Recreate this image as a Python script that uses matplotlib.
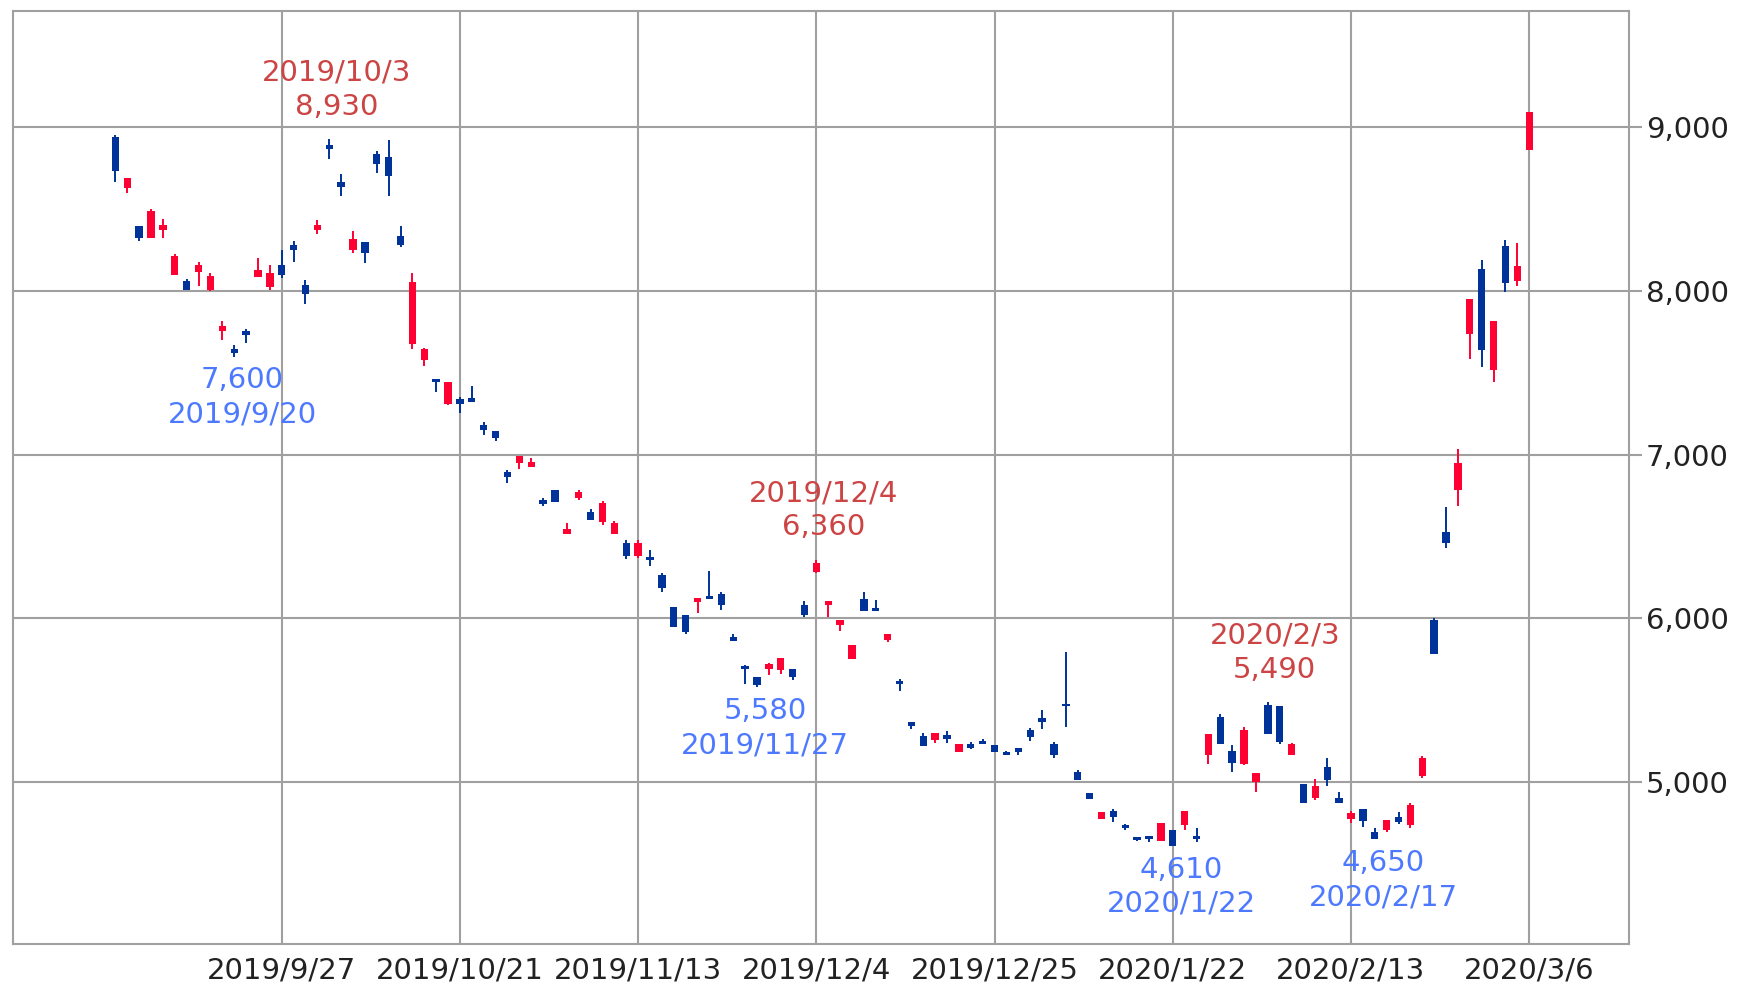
import pandas as pd
import matplotlib
matplotlib.use("Agg")
import matplotlib.pyplot as plt

# trading calendar (TSE), 2019/9/5 - 2020/3/6
holidays = ["2019-09-16", "2019-09-23", "2019-10-14", "2019-10-22", "2019-11-04",
            "2019-12-31", "2020-01-01", "2020-01-02", "2020-01-03", "2020-01-13",
            "2020-02-11", "2020-02-24"]
dates = pd.bdate_range("2019-09-05", "2020-03-06", freq="C", holidays=holidays)

opens = [8734, 8693, 8324, 8488, 8406, 8215, 8006, 8160, 8092, 7785,
         7623, 7730, 8129, 8109, 8098, 8252, 7983, 8402, 8870, 8633,
         8317, 8235, 8777, 8705, 8282, 8056, 7643, 7443, 7447, 7307,
         7324, 7154, 7102, 6861, 6994, 6955, 6697, 6709, 6545, 6775,
         6600, 6703, 6580, 6381, 6461, 6354, 6184, 5949, 5918, 6123,
         6120, 6082, 5863, 5690, 5596, 5719, 5760, 5641, 6020, 6338,
         6109, 5990, 5836, 6047, 6043, 5904, 5600, 5344, 5221, 5303,
         5262, 5234, 5210, 5234, 5187, 5163, 5183, 5275, 5366, 5163,
         5462, 5010, 4894, 4817, 4786, 4719, 4645, 4650, 4752, 4610,
         4821, 4655, 5295, 5234, 5118, 5316, 5057, 5295, 5244, 5234,
         4875, 4976, 5010, 4875, 4809, 4763, 4650, 4769, 4755, 4859,
         5145, 5785, 6459, 6948, 7953, 7639, 7817, 8049, 8156, 9096]
highs = [8953, 8693, 8400, 8502, 8441, 8228, 8072, 8176, 8109, 7816,
         7668, 7771, 8201, 8160, 8252, 8303, 8070, 8433, 8930, 8715,
         8365, 8297, 8854, 8922, 8400, 8111, 7654, 7464, 7447, 7352,
         7420, 7201, 7148, 6908, 6994, 6980, 6738, 6785, 6580, 6785,
         6666, 6717, 6594, 6477, 6477, 6420, 6277, 6072, 6020, 6123,
         6287, 6164, 5902, 5713, 5641, 5727, 5760, 5693, 6109, 6360,
         6109, 5990, 5836, 6164, 6113, 5904, 5631, 5369, 5303, 5303,
         5314, 5234, 5244, 5265, 5224, 5193, 5208, 5330, 5438, 5244,
         5794, 5071, 4935, 4817, 4837, 4746, 4664, 4664, 4752, 4705,
         4821, 4719, 5295, 5417, 5228, 5336, 5057, 5490, 5464, 5240,
         4990, 5020, 5145, 4940, 4823, 4835, 4718, 4769, 4819, 4873,
         5157, 6002, 6680, 7034, 7953, 8191, 7817, 8309, 8292, 9096]
lows = [8666, 8596, 8303, 8324, 8324, 8098, 8006, 8033, 8000, 7703,
        7600, 7682, 8084, 8006, 8078, 8180, 7922, 8350, 8804, 8581,
        8235, 8169, 8722, 8581, 8268, 7649, 7540, 7385, 7303, 7256,
        7320, 7119, 7086, 6826, 6914, 6928, 6689, 6709, 6514, 6723,
        6600, 6570, 6518, 6365, 6369, 6318, 6164, 5949, 5904, 6031,
        6120, 6051, 5863, 5600, 5580, 5652, 5658, 5621, 6006, 6277,
        6010, 5924, 5754, 6047, 6043, 5857, 5559, 5324, 5221, 5242,
        5242, 5183, 5200, 5234, 5187, 5163, 5163, 5254, 5322, 5147,
        5336, 5010, 4894, 4772, 4756, 4705, 4638, 4633, 4638, 4610,
        4705, 4634, 5112, 5234, 5061, 5102, 4939, 5295, 5234, 5167,
        4875, 4889, 4976, 4875, 4749, 4728, 4650, 4694, 4742, 4722,
        5024, 5785, 6429, 6685, 7582, 7533, 7446, 7994, 8028, 8861]
closes = [8939, 8631, 8400, 8324, 8375, 8098, 8060, 8119, 8006, 7756,
          7648, 7754, 8088, 8027, 8160, 8283, 8035, 8371, 8891, 8664,
          8251, 8297, 8839, 8819, 8334, 7674, 7581, 7464, 7313, 7340,
          7345, 7184, 7148, 6893, 6949, 6928, 6723, 6785, 6514, 6738,
          6648, 6590, 6518, 6463, 6383, 6375, 6266, 6072, 6020, 6102,
          6129, 6150, 5887, 5699, 5641, 5693, 5682, 5693, 6082, 6281,
          6082, 5959, 5754, 6117, 6055, 5871, 5611, 5369, 5283, 5256,
          5287, 5183, 5232, 5244, 5224, 5179, 5208, 5316, 5391, 5234,
          5468, 5061, 4935, 4772, 4821, 4735, 4660, 4660, 4638, 4705,
          4739, 4664, 5163, 5397, 5193, 5112, 5000, 5472, 5464, 5167,
          4990, 4903, 5091, 4903, 4775, 4835, 4698, 4708, 4789, 4738,
          5040, 5990, 6529, 6786, 7740, 8136, 7517, 8278, 8061, 8861]

tick_dates = ["2019-09-27", "2019-10-21", "2019-11-13", "2019-12-04",
              "2019-12-25", "2020-01-22", "2020-02-13", "2020-03-06"]
y_ticks = [5000, 6000, 7000, 8000, 9000]

# marked highs / lows
peak_dates = ["2019-10-03", "2019-12-04", "2020-02-03"]
trough_dates = ["2019-09-20", "2019-11-27", "2020-01-22", "2020-02-17"]

UP = "#003399"
DOWN = "#ff0033"
GRID = "#a0a0a0"

def fmt_date(d):
    return f"{d.year}/{d.month}/{d.day}"

x = list(range(len(dates)))
colors = [UP if c >= o else DOWN for o, c in zip(opens, closes)]
bottoms = [min(o, c) for o, c in zip(opens, closes)]
heights = [max(abs(c - o), 18) for o, c in zip(opens, closes)]

fig = plt.figure(figsize=(17.4, 9.83), dpi=100)
ax = fig.add_axes([0.0076, 0.040, 0.9286, 0.949])

ax.vlines(x, lows, highs, colors=colors, linewidth=1.4, zorder=3)
ax.bar(x, heights, bottom=bottoms, width=0.62, color=colors, linewidth=0, zorder=4)

ax.set_xlim(-8.6, 127.4)
ax.set_ylim(4013, 9712)

idx = {d.strftime("%Y-%m-%d"): i for i, d in enumerate(dates)}
ax.set_xticks([idx[d] for d in tick_dates])
ax.set_xticklabels([fmt_date(pd.Timestamp(d)) for d in tick_dates])
ax.yaxis.tick_right()
ax.set_yticks(y_ticks)
ax.set_yticklabels([f"{v:,}" for v in y_ticks])

ax.grid(True, color=GRID, linewidth=1.5, zorder=0)
ax.set_axisbelow(True)
for s in ax.spines.values():
    s.set_color(GRID)
    s.set_linewidth(1.5)
ax.tick_params(axis="y", length=9, width=1.5, color=GRID, pad=3,
               labelsize=21, labelcolor="#222222")
ax.tick_params(axis="x", length=0, pad=9, labelsize=21, labelcolor="#222222")

for d in peak_dates:
    i = idx[d]
    ax.annotate(f"{fmt_date(dates[i])}\n{highs[i]:,}", (i, highs[i]),
                xytext=(5, 13), textcoords="offset points", ha="center",
                va="bottom", fontsize=21, color="#cc4444", linespacing=1.28)
for d in trough_dates:
    i = idx[d]
    ax.annotate(f"{lows[i]:,}\n{fmt_date(dates[i])}", (i, lows[i]),
                xytext=(6, -7), textcoords="offset points", ha="center",
                va="top", fontsize=21, color="#4d79ff", linespacing=1.28)

fig.savefig("out.png", dpi=100)
